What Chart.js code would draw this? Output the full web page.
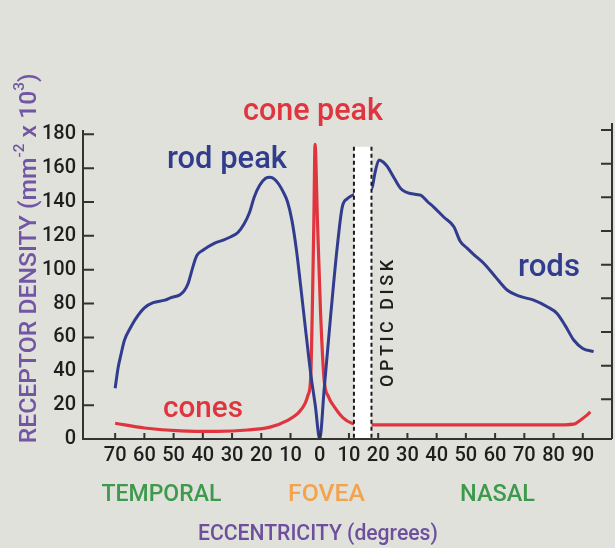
<!DOCTYPE html>
<html>
<head>
<meta charset="utf-8">
<script src="https://cdn.jsdelivr.net/npm/chart.js@4.4.0/dist/chart.umd.min.js"></script>
<style>
  html, body { margin: 0; padding: 0; background: #dfe1da; }
  #wrap { width: 615px; height: 548px; }
</style>
</head>
<body>
<div id="wrap"><canvas id="c"></canvas></div>
<script>
// eccentricity ticks (negative = temporal side), density ticks
const xTicks = [-70, -60, -50, -40, -30, -20, -10, 0, 10, 20, 30, 40, 50, 60, 70, 80, 90];
const yTicks = [0, 20, 40, 60, 80, 100, 120, 140, 160, 180];

// rods
const rodX = [-70, -69, -68, -66.8, -65, -63, -60, -57, -53, -50.9, -48, -46.4, -45, -44, -43, -42, -40, -36.1, -33, -30.4, -28, -25.9, -24, -22.4, -20.5, -18.5, -17, -15.5, -14, -12.5, -11, -9.5, -8, -6.5, -5, -3.1, -1.5, 0,
  1.5, 3.8, 6, 7.7, 9.5, 11.2, 14, 17, 18, 19, 20.3, 21.8, 23.1, 25.5, 27.7, 31, 34.5, 37, 39, 42.5, 45.9, 48, 50.5, 53, 56.1, 60, 64.1, 68, 73.2, 78, 81.2, 84, 86.9, 90, 93.7];
const rodY = [30, 42, 50, 58.5, 65, 71, 77.5, 80.5, 82, 83.5, 85, 87.5, 92, 98, 104, 108.5, 111.5, 115.6, 117.5, 119.5, 122, 127, 134, 143, 150, 154, 154.6, 153.5, 150.5, 146, 140, 129, 112, 90, 67, 38.8, 19.5, 0,
  29, 74, 113.6, 137, 142, 144, 146, 147, 149, 158, 164.8, 163.5, 161, 154, 148, 145, 144, 140, 137, 131, 125.4, 117, 112.6, 108.5, 103.8, 96, 88, 84.5, 82, 78, 74.2, 67, 58.5, 53.5, 51.6];

// cones
const coneX = [-70, -60, -47.5, -35, -24.7, -17, -11, -7, -5, -4, -3.1, -2.5, -2, -1.6, -0.8, 0.3, 1.5, 3, 5, 8, 11, 15, 20, 40, 60, 80, 87, 89.5, 91, 92.6];
const coneY = [9.3, 6.5, 4.8, 4.5, 5.3, 7, 11, 16, 21, 26, 36, 80, 130, 174, 130, 74, 35, 25, 19, 12.5, 9.3, 8.5, 8.3, 8.3, 8.3, 8.3, 8.8, 11.5, 13.5, 16];

// optic disk (blind spot) extent in degrees and height
const opticDisk = [11.7, 17.7];
const opticDiskTop = 172.6;

const FONT = 'Roboto, "Open Sans", sans-serif';
const BLUE = '#323c8e';
const RED = '#e0343f';
const GREEN = '#3d9a4c';
const PURPLE = '#7256a3';

function fitSize(ctx, text, width, weight) {
  ctx.font = weight + ' 100px ' + FONT;
  return 100 * width / ctx.measureText(text).width;
}

function label(ctx, text, x0, x1, baseline, color, weight) {
  const size = fitSize(ctx, text, x1 - x0, weight || 500);
  ctx.font = (weight || 500) + ' ' + size + 'px ' + FONT;
  ctx.fillStyle = color;
  ctx.textAlign = 'left';
  ctx.textBaseline = 'alphabetic';
  ctx.fillText(text, x0, baseline);
}

const opticDiskPlugin = {
  id: 'opticDisk',
  afterDatasetsDraw(chart) {
    const { ctx } = chart;
    const x = chart.scales.x, y = chart.scales.y;
    const x0 = x.getPixelForValue(opticDisk[0]);
    const x1 = x.getPixelForValue(opticDisk[1]);
    const yt = y.getPixelForValue(opticDiskTop);
    const yb = y.getPixelForValue(0);
    ctx.save();
    ctx.fillStyle = '#ffffff';
    ctx.fillRect(x0, yt, x1 - x0, yb - yt);
    ctx.strokeStyle = '#1a1a1a';
    ctx.lineWidth = 2;
    ctx.setLineDash([4, 3]);
    ctx.beginPath();
    ctx.moveTo(x0, yt); ctx.lineTo(x0, yb);
    ctx.moveTo(x1, yt); ctx.lineTo(x1, yb);
    ctx.stroke();
    ctx.restore();
  }
};

const decorPlugin = {
  id: 'decor',
  afterDraw(chart) {
    const { ctx, chartArea } = chart;
    const { left, right, top, bottom } = chartArea;
    const x = chart.scales.x, y = chart.scales.y, y2 = chart.scales.y2;
    ctx.save();

    // axes, ticks pointing inward
    ctx.strokeStyle = '#333';
    ctx.lineWidth = 2;
    ctx.beginPath();
    ctx.moveTo(left, y.getPixelForValue(182.5));
    ctx.lineTo(left, bottom);
    ctx.lineTo(right, bottom);
    ctx.moveTo(right, top);
    ctx.lineTo(right, bottom);
    xTicks.forEach(v => {
      const px = x.getPixelForValue(v);
      ctx.moveTo(px, bottom); ctx.lineTo(px, bottom - 6);
    });
    yTicks.slice(1).forEach(v => {
      const py = y.getPixelForValue(v);
      ctx.moveTo(left, py); ctx.lineTo(left + 11, py);
      const py2 = y2.getPixelForValue(v);
      ctx.moveTo(right, py2); ctx.lineTo(right - 11, py2);
    });
    ctx.stroke();

    // curve labels
    label(ctx, 'cone peak', 243, 383, 120, RED);
    label(ctx, 'rod peak', 167, 287, 168, BLUE);
    label(ctx, 'rods', 518, 580, 276, BLUE);
    label(ctx, 'cones', 163, 243, 416.5, RED);

    // region labels
    label(ctx, 'TEMPORAL', 101.5, 221.5, 500.5, GREEN);
    label(ctx, 'FOVEA', 288, 365, 500.5, '#f4a24c');
    label(ctx, 'NASAL', 460, 535, 500.5, GREEN);
    label(ctx, 'ECCENTRICITY (degrees)', 198, 438, 540, '#6e4f9e');

    // optic disk text, rotated and spaced
    ctx.save();
    ctx.translate(393, 387);
    ctx.rotate(-Math.PI / 2);
    ctx.font = '500 18px ' + FONT;
    ctx.fillStyle = '#1e1e1e';
    const od = 'OPTIC DISK';
    const widths = [...od].map(c => ctx.measureText(c).width);
    const natural = widths.reduce((a, b) => a + b, 0);
    const gap = (127 - natural) / (od.length - 1);
    let pos = 0;
    [...od].forEach((c, i) => { ctx.fillText(c, pos, 0); pos += widths[i] + gap; });
    ctx.restore();

    // y title with superscripts
    ctx.save();
    ctx.translate(36, 443.3);
    ctx.rotate(-Math.PI / 2);
    const parts = [
      ['RECEPTOR DENSITY (mm', 1, 0], ['-2', 0.62, 0.5], [' x 10', 1, 0], ['3', 0.62, 0.5], [')', 1, 0]
    ];
    const measure = s => {
      let w = 0;
      parts.forEach(p => { ctx.font = '500 ' + (s * p[1]) + 'px ' + FONT; w += ctx.measureText(p[0]).width; });
      return w;
    };
    const size = 100 * 370 / measure(100);
    ctx.fillStyle = PURPLE;
    let tx = 0;
    parts.forEach(p => {
      ctx.font = '500 ' + (size * p[1]) + 'px ' + FONT;
      ctx.fillText(p[0], tx, -size * p[2]);
      tx += ctx.measureText(p[0]).width;
    });
    ctx.restore();

    ctx.restore();
  }
};

new Chart(document.getElementById('c'), {
  type: 'line',
  data: {
    datasets: [
      {
        label: 'rods',
        data: rodX.map((v, i) => ({ x: v, y: rodY[i] })),
        borderColor: BLUE,
        borderWidth: 3,
        pointRadius: 0,
        cubicInterpolationMode: 'monotone'
      },
      {
        label: 'cones',
        data: coneX.map((v, i) => ({ x: v, y: coneY[i] })),
        borderColor: RED,
        borderWidth: 3.2,
        pointRadius: 0,
        cubicInterpolationMode: 'monotone'
      }
    ]
  },
  options: {
    responsive: true,
    maintainAspectRatio: false,
    animation: false,
    layout: { padding: { top: 123, left: 0, right: 0, bottom: 0 } },
    plugins: { legend: { display: false }, tooltip: { enabled: false } },
    scales: {
      x: {
        type: 'linear',
        min: -81,
        max: 100,
        afterBuildTicks: s => { s.ticks = xTicks.map(v => ({ value: v })); },
        afterFit: s => { s.height = 109; },
        grid: { display: false, drawTicks: false },
        border: { display: false },
        ticks: {
          color: '#1e1e1e',
          font: { family: FONT, size: 20, weight: 500 },
          padding: 5,
          maxRotation: 0,
          autoSkip: false,
          callback: v => Math.abs(v)
        }
      },
      y: {
        position: 'left',
        min: 0,
        max: 186.67,
        afterBuildTicks: s => { s.ticks = yTicks.map(v => ({ value: v })); },
        afterFit: s => { s.width = 83; },
        grid: { display: false, drawTicks: false },
        border: { display: false },
        ticks: {
          color: '#1e1e1e',
          font: { family: FONT, size: 20, weight: 500 },
          padding: 7,
          autoSkip: false
        }
      },
      y2: {
        position: 'right',
        min: -3.6,
        max: 184.2,
        afterBuildTicks: s => { s.ticks = yTicks.map(v => ({ value: v })); },
        afterFit: s => { s.width = 3; },
        grid: { display: false, drawTicks: false },
        border: { display: false },
        ticks: { display: false }
      }
    }
  },
  plugins: [opticDiskPlugin, decorPlugin]
});
</script>
</body>
</html>
